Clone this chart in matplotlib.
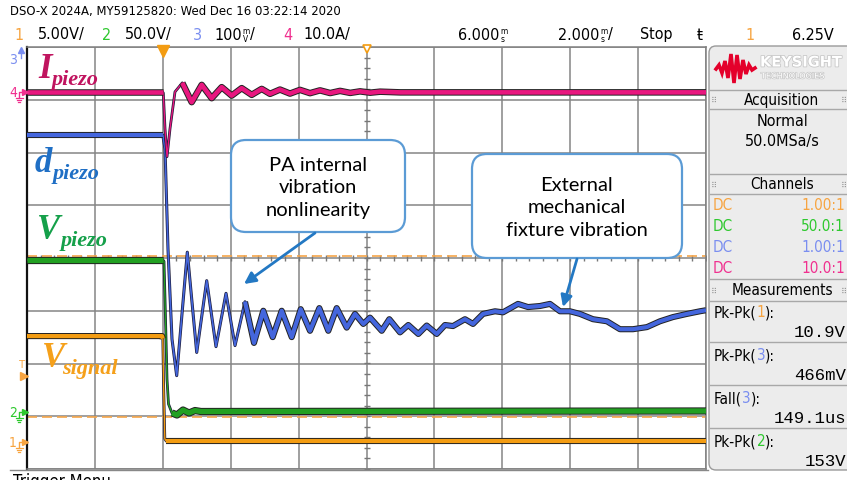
import numpy as np
import matplotlib.pyplot as plt
import matplotlib.patheffects as pe
from matplotlib.patches import FancyBboxPatch

W, H = 847, 481

# scope settings
T_MIN, T_MAX = -4.0, 16.0                      # ms (6.000 ms centre, 2.000 ms/div)
SCALE = {1: 5.0, 2: 50.0, 3: 100.0, 4: 10.0}    # V/div, V/div, mV/div, A/div
OFFSET = {1: -3.49, 2: -2.92, 3: 2.33, 4: 3.14}  # ground position in divisions
COLOR = {1: "#f39c12", 2: "#22a022", 3: "#4466dd", 4: "#e8177f"}
HDR_COLOR = {1: "#f7a440", 2: "#2ec82e", 3: "#7a8ef0", 4: "#f0308f"}
TRIG_LEVEL = 6.25                               # V on channel 1
CURSOR_DIV = [0.04, -3.01]

# channel 1: V_signal (V)
SIG_T = [-4.0, -0.02, 0.0, 0.02, 0.06, 0.10, 16.0]
SIG_V = [10.05, 10.05, 9.8, 6.0, 0.3, 0.1, 0.1]

# channel 2: V_piezo (V)
VPZ_T = [-4.0, 0.0, 0.035, 0.065, 0.124, 0.168, 0.271, 0.418, 0.595, 0.772, 0.948, 1.125, 16.0]
VPZ_V = [144, 144, 143, 107, 31, 7.6, -0.9, -2.8, 1.9, -0.9, 1.4, 0.5, 1.0]

# channel 3: d_piezo (mV, relative to the resting level)
DPZ_T = [-4.0, 0.0, 0.065, 0.153, 0.271, 0.409, 0.722, 0.999, 1.293, 1.567, 1.862,
         2.127, 2.421, 2.686, 2.960, 3.237, 3.502, 3.797, 4.062, 4.336, 4.610,
         4.875, 5.122, 5.417, 5.661, 5.906, 6.103, 6.448, 6.672, 6.987, 7.231,
         7.526, 7.773, 8.068, 8.312, 8.548, 8.901, 9.137, 9.431, 9.785, 10.020,
         10.462, 10.756, 11.110, 11.404, 11.699, 11.993, 12.287, 12.670, 13.083,
         13.465, 13.848, 14.260, 14.643, 15.026, 15.438, 15.821, 16.0]
DPZ_MV = [0, 0, -26, -216, -387, -456, -222, -412, -276, -401, -300,
          -399, -316, -394, -333, -383, -333, -383, -330, -371, -328,
          -371, -328, -365, -339, -358, -346, -371, -349, -374, -360,
          -377, -361, -377, -360, -362, -349, -358, -339, -334, -336,
          -320, -326, -324, -320, -334, -334, -339, -349, -353,
          -368, -368, -364, -353, -345, -339, -334, -332]

# channel 4: I_piezo (A)
IPZ_T = [-4.0, 0.0, 0.015, 0.065, 0.124, 0.212, 0.359, 0.574, 0.851, 1.146, 1.440,
         1.735, 2.029, 2.324, 2.619, 2.913, 3.158, 3.452, 3.747, 4.042, 4.336,
         4.63, 4.93, 5.22, 5.52, 5.81, 6.11, 6.40, 6.99, 16.0]
IPZ_A = [0, 0, -0.1, -6.9, -12.2, -6.9, 0.1, 1.8, -1.86, 1.42, -1.1,
         0.99, -0.61, 0.80, -0.47, 0.66, -0.28, 0.53, -0.23, 0.47, -0.15,
         0.38, -0.13, 0.28, -0.1, 0.19, -0.06, 0.13, 0, 0]

CHANNEL_ROWS = [(1, "1.00:1"), (2, "50.0:1"), (3, "1.00:1"), (4, "10.0:1")]
MEASUREMENTS = [("Pk-Pk(", 1, "10.9V"), ("Pk-Pk(", 3, "466mV"),
                ("Fall(", 3, "149.1us"), ("Pk-Pk(", 2, "153V")]

NARROW = dict(family="DejaVu Sans", stretch="condensed")
SERIF = "Liberation Serif"
MONO = "Liberation Mono"
CALLOUT = "Lato"

# graticule box in pixels
GX0, GX1, GY0, GY1 = 27, 706, 48, 470

fig = plt.figure(figsize=(W / 100, H / 100), dpi=100)
ax = fig.add_axes([GX0 / W, 1 - GY1 / H, (GX1 - GX0) / W, (GY1 - GY0) / H])
ov = fig.add_axes([0, 0, 1, 1])
ov.set_xlim(0, W)
ov.set_ylim(H, 0)
ov.axis("off")
ov.patch.set_alpha(0)

ax.set_xlim(T_MIN, T_MAX)
ax.set_ylim(-4, 4)
ax.set_xticks(np.arange(T_MIN, T_MAX + 0.1, 2.0))
ax.set_yticks(np.arange(-4, 4.1, 1.0))
ax.grid(True, color="#858585", lw=1.1)
ax.tick_params(length=0, labelbottom=False, labelleft=False)
for s in ax.spines.values():
    s.set_color("#808080")
    s.set_linewidth(1.1)
ax.spines["left"].set_color("#111111")
ax.spines["left"].set_linewidth(1.6)

# minor ticks on the centre cross
xc = (T_MIN + T_MAX) / 2
ax.plot(np.arange(T_MIN, T_MAX + 0.01, 0.4), np.zeros(51), ls="none", marker="|",
        ms=5, color="#777777", mew=1, zorder=2)
ax.plot(np.full(41, xc), np.arange(-4, 4.01, 0.2), ls="none", marker="_",
        ms=5, color="#777777", mew=1, zorder=2)

for c in CURSOR_DIV:
    ax.axhline(c, color="#f5a54a", lw=1.2, ls=(0, (6, 3)), zorder=2.5)


def to_div(ch, vals):
    return np.asarray(vals, float) / SCALE[ch] + OFFSET[ch]


def px_y(div):
    return GY0 + (4 - div) * (GY1 - GY0) / 8


def draw_trace(ch, t, v, thin, thick, fast):
    t = np.asarray(t, float)
    y = to_div(ch, v)
    ax.plot(t, y, color=COLOR[ch], lw=thin, zorder=3,
            path_effects=[pe.Stroke(linewidth=thin + 1.0, foreground="#1c1c3a"), pe.Normal()])
    for m in (t <= 0, t >= fast):
        ax.plot(t[m], y[m], color=COLOR[ch], lw=thick, zorder=4, solid_capstyle="butt",
                path_effects=[pe.Stroke(linewidth=thick + 1.4, foreground="#222222"), pe.Normal()])


draw_trace(1, SIG_T, SIG_V, 1.0, 3.0, 0.08)
draw_trace(2, VPZ_T, VPZ_V, 1.0, 3.8, 0.25)
draw_trace(3, DPZ_T, DPZ_MV, 1.2, 3.0, 2.4)
draw_trace(4, IPZ_T, IPZ_A, 1.0, 3.3, 0.36)

# trigger position / time reference markers
ax.plot([0], [3.93], marker="v", ms=9, color="#f39c12", clip_on=False, zorder=6)
ax.plot([xc], [3.97], marker="v", ms=6, mfc="white", mec="#f39c12", mew=1.2,
        clip_on=False, zorder=6)


def stacked(t, top, bot, slash=False):
    ov.annotate(top, xy=(1, 0.45), xycoords=t, xytext=(0.5, 0), textcoords="offset points",
                va="bottom", ha="left", fontsize=6, **NARROW)
    ov.annotate(bot, xy=(1, 0.5), xycoords=t, xytext=(1, 0), textcoords="offset points",
                va="top", ha="left", fontsize=6, **NARROW)
    if slash:
        ov.annotate("/", xy=(1, 0), xycoords=t, xytext=(6, 0), textcoords="offset points",
                    va="bottom", ha="left", fontsize=11.5, **NARROW)


# ---- header text ----
ov.text(10, 12, "DSO-X 2024A, MY59125820: Wed Dec 16 03:22:14 2020",
        fontsize=9.4, va="center", ha="left", **NARROW)
hy = 35
hdr = {}
for x, s, c in [(14, "1", HDR_COLOR[1]), (38, "5.00V/", "k"), (102, "2", HDR_COLOR[2]),
                (125, "50.0V/", "k"), (193, "3", HDR_COLOR[3]), (214, "100", "k"),
                (283, "4", HDR_COLOR[4]), (303, "10.0A/", "k"),
                (458, "6.000", "k"), (558, "2.000", "k"),
                (640, "Stop", "k"), (745, "1", HDR_COLOR[1]), (792, "6.25V", "k")]:
    hdr[(x, s)] = ov.text(x, hy, s, fontsize=11.5, color=c, va="center", ha="left", **NARROW)
stacked(hdr[(214, "100")], "m", "V", slash=True)
stacked(hdr[(458, "6.000")], "m", "s")
stacked(hdr[(558, "2.000")], "m", "s", slash=True)
ov.text(697, hy, "ŧ", family="DejaVu Sans", fontsize=11, va="center", ha="left")


# ---- left channel markers ----
def ground_marker(ch, label, color):
    y = px_y(OFFSET[ch])
    ov.text(13, y, label, fontsize=10, color=color, va="center", ha="center", **NARROW)
    ov.plot([19, 19, 24], [y + 5, y, y], color=color, lw=1)
    ov.plot([24.5], [y], marker=">", ms=4, color=color)
    for i, hw in enumerate([3.5, 2.3, 1.1]):
        ov.plot([19 - hw, 19 + hw], [y + 6 + 2 * i] * 2, color=color, lw=0.9)


ground_marker(4, "4", HDR_COLOR[4])
ground_marker(2, "2", HDR_COLOR[2])
ground_marker(1, "1", HDR_COLOR[1])
ov.text(13, 60, "3", fontsize=10, color=HDR_COLOR[3], va="center", ha="center", **NARROW)
ov.plot([21, 21], [59, 51], color=HDR_COLOR[3], lw=1)
ov.plot([21], [51], marker="^", ms=4, color=HDR_COLOR[3])
ty = px_y(TRIG_LEVEL / SCALE[1] + OFFSET[1])
ov.text(22, ty - 12, "T", fontsize=8, color=HDR_COLOR[1], va="center", ha="center", **NARROW)
ov.plot([24], [ty], marker=">", ms=6, color=HDR_COLOR[1])

# bottom strip (menu label is cut by the screenshot edge)
ov.plot([10, 708], [471, 471], color="#888888", lw=1)
ov.text(13, 473, "Trigger Menu", fontsize=12, va="top", ha="left", **NARROW)

# ---- trace labels ----
LABELS = [("I", "piezo", 38, 78, 52, "#c0145f"),
          ("d", "piezo", 35, 172, 53, "#1f6fc5"),
          ("V", "piezo", 37, 239, 61, "#15a04a"),
          ("V", "signal", 42, 367, 62, "#f5a01a")]
for big, sub, x, y, xs, c in LABELS:
    ov.text(x, y, big, family=SERIF, style="italic", weight="bold", fontsize=25,
            color=c, va="baseline", ha="left")
    ov.text(xs, y + 7, sub, family=SERIF, style="italic", weight="bold", fontsize=16,
            color=c, va="baseline", ha="left")


# ---- callouts ----
def callout(x0, y0, x1, y1, text, tail, head):
    box = FancyBboxPatch((x0, y0), x1 - x0, y1 - y0, boxstyle="round,pad=0,rounding_size=15",
                         fc="white", ec="#5b9bd5", lw=1.6, zorder=8)
    ov.add_patch(box)
    ov.text((x0 + x1) / 2, (y0 + y1) / 2 + 1, text, family=CALLOUT, fontsize=14.5,
            ha="center", va="center", linespacing=1.42, zorder=9)
    ov.annotate("", xy=head, xytext=tail, zorder=9,
                arrowprops=dict(arrowstyle="-|>", color="#2378c3", lw=2, mutation_scale=17,
                                shrinkA=0, shrinkB=0))


callout(231, 141, 405, 233, "PA internal\nvibration\nnonlinearity", (315, 234), (244, 285))
callout(472, 155, 682, 259, "External\nmechanical\nfixture vibration", (577, 260), (563, 308))

# ---- right side panel ----
PX0 = 709
panel = FancyBboxPatch((PX0, 47), W - PX0 + 20, 424, boxstyle="round,pad=0,rounding_size=7",
                       fc="#ececec", ec="#9a9a9a", lw=1, zorder=1)
ov.add_patch(panel)
PCX = 782
for y in [91, 110, 175, 195, 280, 302, 343, 386, 429]:
    ov.plot([PX0 + 1, W], [y, y], color="#a8a8a8", lw=1)
LOGO_X = [716, 719, 722, 725, 728, 731, 734, 737, 740, 743, 746, 749, 752, 755]
LOGO_Y = [70, 66, 74, 62, 79, 55, 84, 56, 80, 61, 75, 66, 71, 69]
ov.plot(LOGO_X, LOGO_Y, color="#e4002b", lw=2.6, solid_joinstyle="miter")
ov.text(760, 63, "KEYSIGHT", family="DejaVu Sans", weight="bold", fontsize=10.5, color="white",
        va="center", ha="left", path_effects=[pe.withStroke(linewidth=1.2, foreground="#c8c8c8")])
ov.text(761, 77, "TECHNOLOGIES", family="DejaVu Sans", fontsize=5.8, color="white",
        va="center", ha="left", path_effects=[pe.withStroke(linewidth=1, foreground="#c8c8c8")])

for y, s in [(100, "Acquisition"), (185, "Channels"), (291, "Measurements")]:
    ov.text(PCX, y, s, fontsize=11, va="center", ha="center", **NARROW)
    ov.text(714, y, "⠿", family="DejaVu Sans", fontsize=6, color="#999999", va="center", ha="center")
    ov.text(844, y, "⠿", family="DejaVu Sans", fontsize=6, color="#999999", va="center", ha="center")
ov.text(PCX, 121, "Normal", fontsize=11.5, va="center", ha="center", **NARROW)
ov.text(PCX, 142, "50.0MSa/s", fontsize=11.5, va="center", ha="center", **NARROW)

for i, (ch, ratio) in enumerate(CHANNEL_ROWS):
    y = 206 + 21 * i
    ov.text(713, y, "DC", fontsize=11, color=HDR_COLOR[ch], va="center", ha="left", **NARROW)
    ov.text(845, y, ratio, fontsize=11, color=HDR_COLOR[ch], va="center", ha="right", **NARROW)

for i, (name, ch, val) in enumerate(MEASUREMENTS):
    y = 313 + 43 * i
    t1 = ov.text(714, y, name, fontsize=11, va="center", ha="left", **NARROW)
    t2 = ov.annotate(str(ch), xy=(1, 0), xycoords=t1, va="bottom", ha="left",
                     fontsize=11, color=HDR_COLOR[ch], **NARROW)
    ov.annotate("):", xy=(1, 0), xycoords=t2, va="bottom", ha="left", fontsize=11, **NARROW)
    ov.text(846, y + 20, val, family=MONO, fontsize=12.5, va="center", ha="right")

fig.savefig("out.png", dpi=100)
